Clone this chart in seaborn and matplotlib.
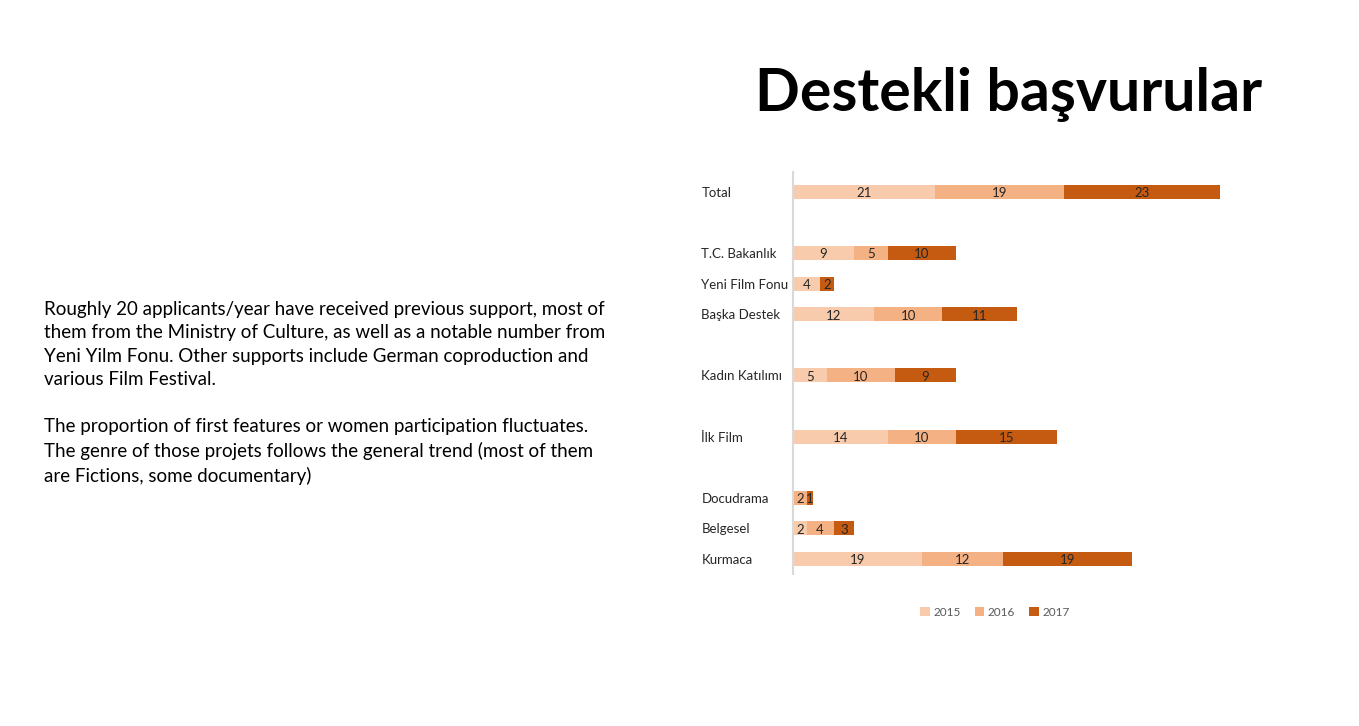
import numpy as np
import pandas as pd
import matplotlib
matplotlib.use("Agg")
import matplotlib.pyplot as plt
from matplotlib.patches import Patch
import seaborn as sns

categories = ["Total", "T.C. Bakanlık", "Yeni Film Fonu", "Başka Destek",
              "Kadın Katılımı", "İlk Film", "Docudrama", "Belgesel", "Kurmaca"]
v2015 = [21, 9, 4, 12, 5, 14, 0, 2, 19]
v2016 = [19, 5, 0, 10, 10, 10, 2, 4, 12]
v2017 = [23, 10, 2, 11, 9, 15, 1, 3, 19]
years = ["2015", "2016", "2017"]
colors = ["#F8CBAD", "#F4B183", "#C55A11"]

title = "Destekli başvurular"
body = ("Roughly 20 applicants/year have received previous support, most of\n"
        "them from the Ministry of Culture, as well as a notable number from\n"
        "Yeni Yilm Fonu. Other supports include German coproduction and\n"
        "various Film Festival.\n"
        "\n"
        "The proportion of first features or women participation fluctuates.\n"
        "The genre of those projets follows the general trend (most of them\n"
        "are Fictions, some documentary)")

# row order with empty spacer rows
order = ["Total", " ", "T.C. Bakanlık", "Yeni Film Fonu", "Başka Destek", "  ",
         "Kadın Katılımı", "   ", "İlk Film", "    ", "Docudrama", "Belgesel", "Kurmaca"]

sns.set_theme(style="white")
plt.rcParams["font.family"] = ["Lato", "DejaVu Sans"]

df = pd.DataFrame({"category": categories, "v2015": v2015, "v2016": v2016, "v2017": v2017})
df["c1"] = df["v2015"]
df["c2"] = df["v2015"] + df["v2016"]
df["c3"] = df["c2"] + df["v2017"]

fig = plt.figure(figsize=(13.59, 7.26), dpi=100)
ax = fig.add_axes([0.5835, 0.2090, 0.3192, 0.554])

for col, color in zip(["c3", "c2", "c1"], colors[::-1]):
    sns.barplot(data=df, x=col, y="category", order=order, color=color,
                orient="y", width=0.46, errorbar=None, saturation=1,
                linewidth=0, ax=ax)

# segment labels
for _, row in df.iterrows():
    ypos = order.index(row["category"])
    start = 0
    for key in ["v2015", "v2016", "v2017"]:
        val = row[key]
        if val > 0:
            ax.text(start + val / 2, ypos + 0.04, str(int(val)), ha="center", va="center",
                    fontsize=9.5, color="#262626")
        start += val

ax.set_xlim(0, 64)
ax.set_ylim(12.5, -0.65)
ax.set_xlabel("")
ax.set_ylabel("")
ax.set_xticks([])
for s in ["top", "right", "bottom"]:
    ax.spines[s].set_visible(False)
ax.spines["left"].set_color("#D9D9D9")
ax.spines["left"].set_linewidth(1.5)
ax.tick_params(axis="y", length=0, pad=66, labelsize=9.5, labelcolor="#262626")
for lab in ax.get_yticklabels():
    lab.set_horizontalalignment("left")

handles = [Patch(facecolor=c, edgecolor="none", label=y) for c, y in zip(colors, years)]
fig.legend(handles=handles, loc="center", bbox_to_anchor=(995 / 1359, 1 - 612 / 726),
           ncol=3, frameon=False, fontsize=8.5, handlelength=0.8, handleheight=0.8,
           handletextpad=0.3, columnspacing=1.2, labelcolor="#595959")

fig.text(1262 / 1359, 1 - 95 / 726, title, ha="right", va="center",
         fontsize=42.5, fontweight="bold", color="black")
fig.text(44 / 1359, 1 - 301 / 726, body, ha="left", va="top", fontsize=13.5,
         color="black", linespacing=1.46)

fig.savefig("out.png", dpi=100, facecolor="white")
